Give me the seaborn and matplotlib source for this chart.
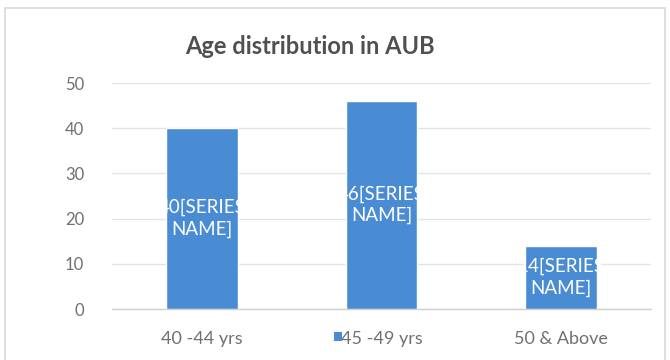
import matplotlib
matplotlib.use("Agg")
import matplotlib.pyplot as plt
from matplotlib.patches import Rectangle, Patch
import seaborn as sns
import pandas as pd

categories = ["40 -44 yrs", "45 -49 yrs", "50 & Above"]
values = [40, 46, 14]
y_ticks = [0, 10, 20, 30, 40, 50]
title = "Age distribution in AUB"
label_suffix = "[SERIES\nNAME]"

sns.set_theme(style="white")
plt.rcParams["font.family"] = ["Lato", "DejaVu Sans"]

bar_color = "#4A8CD4"
grid_color = "#E4E4E4"
text_color = "#707070"

df = pd.DataFrame({"group": categories, "count": values})

fig = plt.figure(figsize=(6.7, 3.6), dpi=100)
ax = fig.add_axes([112 / 670, 1 - 309 / 360, (651 - 112) / 670, (309 - 83) / 360])

sns.barplot(data=df, x="group", y="count", color=bar_color, width=0.4,
            saturation=1, ax=ax, zorder=3)

ax.set_ylim(0, 50)
ax.set_xlim(-0.5, len(categories) - 0.5)
ax.set_yticks(y_ticks)
ax.set_xlabel("")
ax.set_ylabel("")
ax.yaxis.grid(True, color=grid_color, linewidth=1)
ax.set_axisbelow(True)
for side in ["top", "right", "left"]:
    ax.spines[side].set_visible(False)
ax.spines["bottom"].set_color("#D0D0D0")
ax.spines["bottom"].set_linewidth(1)

ax.tick_params(axis="y", length=0, pad=20, labelsize=12, labelcolor=text_color)
ax.tick_params(axis="x", which="major", length=0, pad=16, labelsize=13,
               labelcolor=text_color)
ax.set_xticks([i - 0.5 for i in range(len(categories) + 1)], minor=True)
ax.tick_params(axis="x", which="minor", length=4, color="#D0D0D0", width=1)

# value labels inside the bars
for patch, v in zip(ax.patches, values):
    cx = patch.get_x() + patch.get_width() / 2
    cy = patch.get_height() / 2
    ax.text(cx, cy, f"{v}{label_suffix}", ha="center", va="center",
            color="white", fontsize=13.5, linespacing=1.3, zorder=4)

fig.text(310 / 670, 1 - 46 / 360, title, ha="center", va="center",
         fontsize=17, fontweight="bold", color="#505050")

# small legend key sitting over the middle axis label
ax.legend(handles=[Patch(facecolor=bar_color, edgecolor="none")], labels=[""],
          loc="center", bbox_to_anchor=(338 / 670, 1 - 338 / 360),
          bbox_transform=fig.transFigure, frameon=False, handlelength=0.55,
          handleheight=0.55, handletextpad=0, borderpad=0)

# chart border
fig.patches.append(Rectangle((5 / 670, -0.02), 660 / 670, 1 - 8 / 360 + 0.02,
                             transform=fig.transFigure, fill=False,
                             edgecolor="#D9D9D9", linewidth=1.2))

fig.savefig("out.png", dpi=100)
